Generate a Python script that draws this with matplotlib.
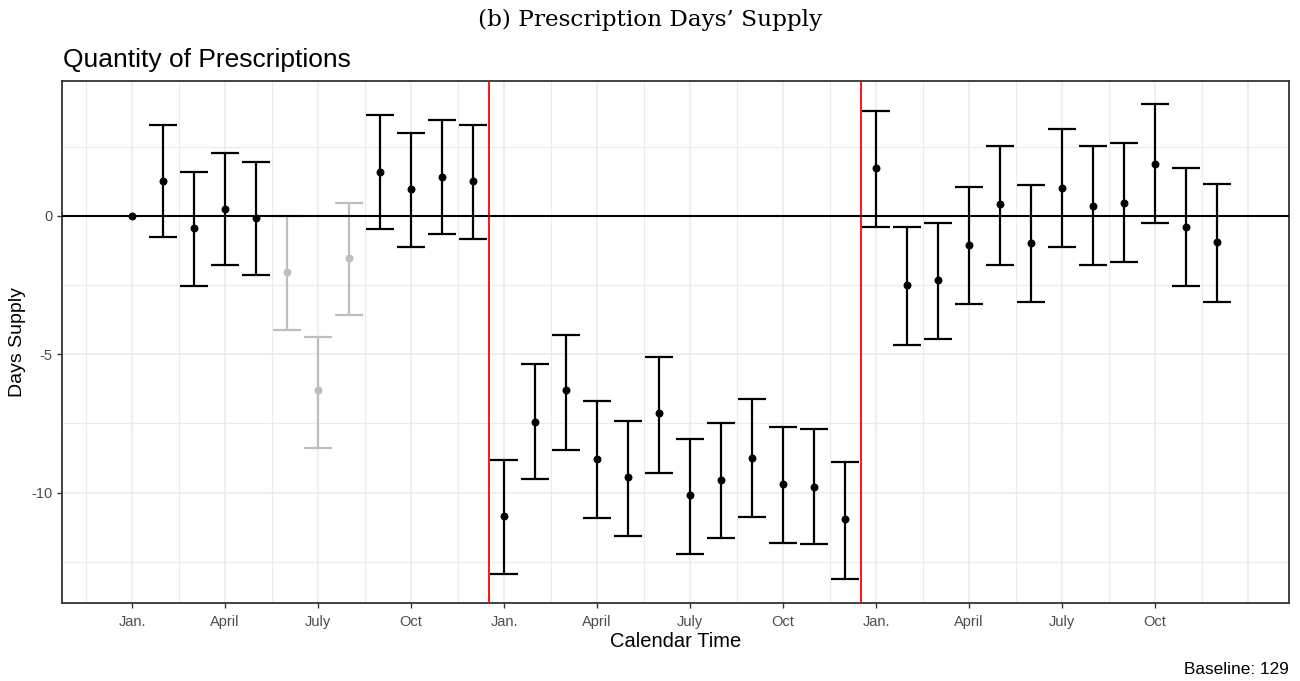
import matplotlib
matplotlib.use("Agg")
import matplotlib.pyplot as plt
import numpy as np

# ---- data ----
months = list(range(1, 37))
estimate = [0.00, 1.25, -0.45, 0.25, -0.08, -2.04, -6.29, -1.51, 1.60, 0.96, 1.42, 1.25,
            -10.85, -7.43, -6.29, -8.79, -9.43, -7.12, -10.08, -9.55, -8.73, -9.67, -9.78, -10.96,
            1.72, -2.50, -2.32, -1.04, 0.42, -0.98, 1.02, 0.37, 0.48, 1.89, -0.39, -0.93]
upper = [np.nan, 3.29, 1.59, 2.29, 1.94, 0.00, -4.36, 0.46, 3.65, 2.99, 3.46, 3.29,
         -8.82, -5.34, -4.30, -6.70, -7.42, -5.10, -8.06, -7.47, -6.62, -7.63, -7.71, -8.88,
         3.81, -0.41, -0.24, 1.05, 2.52, 1.11, 3.16, 2.52, 2.65, 4.05, 1.75, 1.16]
lower = [np.nan, -0.76, -2.53, -1.76, -2.12, -4.11, -8.38, -3.59, -0.47, -1.12, -0.65, -0.83,
         -12.93, -9.52, -8.46, -10.93, -11.58, -9.28, -12.23, -11.64, -10.88, -11.82, -11.87, -13.11,
         -0.41, -4.66, -4.45, -3.18, -1.77, -3.12, -1.12, -1.77, -1.66, -0.24, -2.54, -3.11]
greyed = [6, 7, 8]
tick_pos = [1, 4, 7, 10, 13, 16, 19, 22, 25, 28, 31, 34]
tick_labels = ["Jan.", "April", "July", "Oct"] * 3
breaks = [12.5, 24.5]

# ---- figure ----
fig = plt.figure(figsize=(13, 6.81), dpi=100)
ax = fig.add_axes([62.3/1300, 1-603.3/681, (1289.3-62.3)/1300, (603.3-80.7)/681])

ax.set_xlim(-1.25, 38.33)
ax.set_ylim(-14.0, 4.89)

# grid
for gx in np.arange(-0.5, 38, 1.5):
    ax.axvline(gx, color="#EBEBEB", lw=1.1 if (gx - 1) % 3 == 0 else 0.8, zorder=0)
for gy in [2.5, 0, -2.5, -5, -7.5, -10, -12.5]:
    ax.axhline(gy, color="#EBEBEB", lw=1.1 if gy % 5 == 0 else 0.8, zorder=0)

ax.axhline(0, color="black", lw=1.5, zorder=4.5)
for b in breaks:
    ax.axvline(b, color="#FF0000", lw=1.3, zorder=3)

for m, e, u, l in zip(months, estimate, upper, lower):
    c = "#BEBEBE" if m in greyed else "black"
    if not np.isnan(u):
        ax.errorbar([m], [e], yerr=[[e - l], [u - e]], fmt="none", ecolor=c,
                    elinewidth=1.6, capsize=9.8, capthick=1.6, zorder=4)
    ax.plot([m], [e], "o", color=c, markersize=4.7, zorder=5)

ax.set_xticks(tick_pos)
ax.set_xticklabels(tick_labels)
ax.set_yticks([0, -5, -10])
ax.set_yticklabels(["0", "-5", "-10"])
ax.tick_params(axis="both", colors="#333333", labelcolor="#4D4D4D", labelsize=10.5,
               length=3.5, width=1.0)
ax.tick_params(axis="x", pad=5)
for lab in ax.get_xticklabels() + ax.get_yticklabels():
    lab.set_family("Liberation Sans")
for s in ax.spines.values():
    s.set_color("#333333")
    s.set_linewidth(1.3)

ax.set_xlabel("Calendar Time", fontsize=14.5, family="Liberation Sans", labelpad=2)
ax.set_ylabel("Days Supply", fontsize=14, family="Liberation Sans", labelpad=4)

fig.text(63/1300, 1-67/681, "Quantity of Prescriptions", fontsize=19,
         family="Liberation Sans", ha="left", va="baseline")
fig.text(650/1300, 1-20/681, "(b) Prescription Days\u2019 Supply", fontsize=16.7,
         family="DejaVu Serif", ha="center", va="center")
fig.text(1289/1300, 1-669/681, "Baseline: 129", fontsize=12.4,
         family="Liberation Sans", ha="right", va="center")

fig.savefig("out.png", dpi=100)
